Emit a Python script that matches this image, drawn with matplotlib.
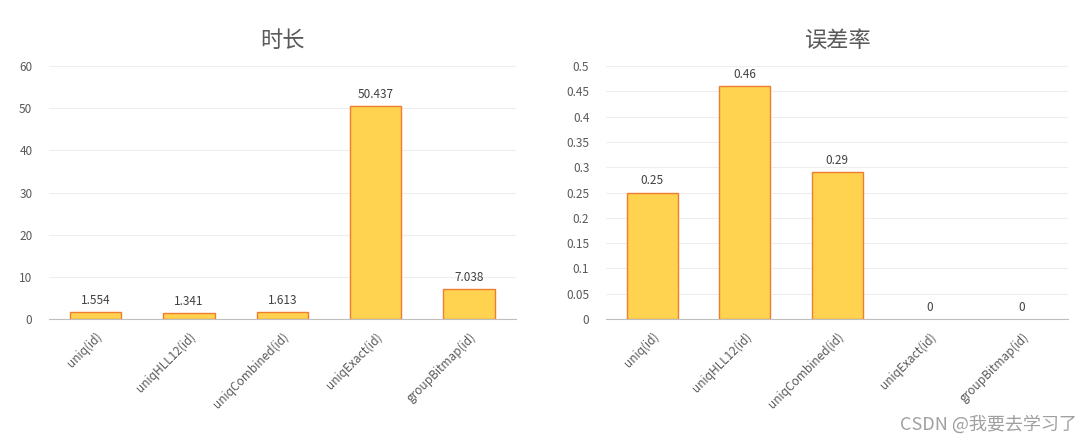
import matplotlib.pyplot as plt

plt.rcParams['font.family'] = ['Noto Sans CJK SC', 'DejaVu Sans']

funcs = ['uniq(id)', 'uniqHLL12(id)', 'uniqCombined(id)', 'uniqExact(id)', 'groupBitmap(id)']
duration = [1.554, 1.341, 1.613, 50.437, 7.038]
duration_labels = ['1.554', '1.341', '1.613', '50.437', '7.038']
error_rate = [0.25, 0.46, 0.29, 0, 0]
error_labels = ['0.25', '0.46', '0.29', '0', '0']

dur_ticks = [0, 10, 20, 30, 40, 50, 60]
err_ticks = [0, 0.05, 0.1, 0.15, 0.2, 0.25, 0.3, 0.35, 0.4, 0.45, 0.5]
err_ticklabels = ['0', '0.05', '0.1', '0.15', '0.2', '0.25', '0.3', '0.35', '0.4', '0.45', '0.5']

fig = plt.figure(figsize=(10.9, 4.44), dpi=100)
ax1 = fig.add_axes([0.045, 0.2815, 0.428, 0.5698])
ax2 = fig.add_axes([0.556, 0.2815, 0.424, 0.5698])

bar_color = '#FFD34F'
edge_color = '#ED7D31'
text_color = '#595959'


def draw(ax, values, labels, ticks, ticklabels, title, offset):
    x = range(len(funcs))
    # zero-height bars have no visible outline in the original
    lws = [1 if v > 0 else 0 for v in values]
    ax.bar(x, values, width=0.55, color=bar_color, edgecolor=edge_color, linewidth=lws)
    for i, v in enumerate(values):
        ax.text(i, v + offset, labels[i], ha='center', va='bottom', fontsize=8.5, color='#404040')
    ax.set_xlim(-0.5, len(funcs) - 0.5)
    ax.set_ylim(ticks[0], ticks[-1])
    ax.set_yticks(ticks)
    ax.set_yticklabels(ticklabels)
    ax.set_xticks(list(x))
    ax.set_xticklabels(funcs, rotation=45, ha='right', rotation_mode='anchor')
    ax.tick_params(axis='both', length=0, labelsize=8.5, labelcolor=text_color)
    ax.tick_params(axis='y', pad=12)
    ax.tick_params(axis='x', pad=8)
    ax.grid(axis='y', color='#EEEEEE', linewidth=0.8)
    ax.set_axisbelow(True)
    for s in ['top', 'right', 'left']:
        ax.spines[s].set_visible(False)
    ax.spines['bottom'].set_color('#BFBFBF')
    ax.set_title(title, fontsize=16, color=text_color, pad=14)


draw(ax1, duration, duration_labels, dur_ticks, [str(t) for t in dur_ticks], '时长', 1.2)
draw(ax2, error_rate, error_labels, err_ticks, err_ticklabels, '误差率', 0.01)

fig.text(0.988, 0.022, 'CSDN @我要去学习了', ha='right', va='bottom', fontsize=13, color='#A0A0A0')

fig.savefig('out.png')
